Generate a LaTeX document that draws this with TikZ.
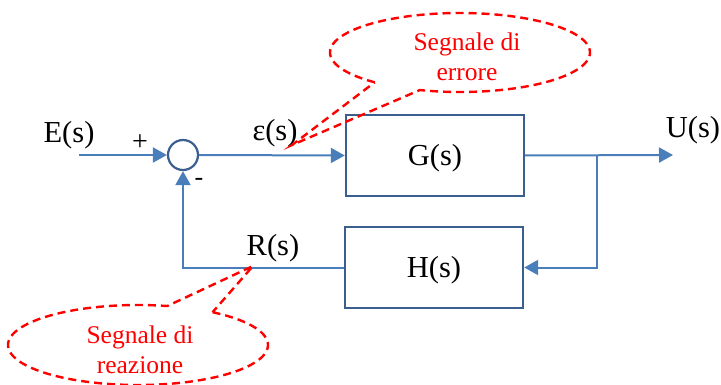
\documentclass[tikz,border=0pt]{standalone}
\usepackage{fontspec}
\setmainfont{Liberation Serif}
\usetikzlibrary{arrows.meta}
\definecolor{sigblue}{HTML}{4A7EBB}
\definecolor{boxblue}{HTML}{3A5F8F}
\definecolor{callred}{HTML}{FF0000}
\begin{document}
\begin{tikzpicture}[x=1pt,y=-1pt,
  sig/.style={draw=sigblue,line width=2pt,-{Triangle[length=14pt,width=15pt]}},
  blockbox/.style={draw=boxblue,line width=2.4pt,minimum width=178pt,minimum height=81pt,inner sep=0pt},
  lbl/.style={font=\fontsize{30.5}{35}\selectfont,inner sep=0pt},
  calltext/.style={font=\fontsize{25.5}{29.5}\selectfont,text=callred,align=center,inner sep=0pt},
  callout/.style={draw=callred,line width=2.4pt,dash pattern=on 8pt off 5pt}]
\useasboundingbox (0,0) rectangle (721,385);
% blocks
\node[blockbox] (G) at (435,155.5) {};
\node[lbl] (Gt) at (435,158) {G(s)};
\node[blockbox] (H) at (434,267.5) {};
\node[lbl] (Ht) at (434,270) {H(s)};
\node[draw=boxblue,line width=2.2pt,circle,minimum size=30pt,inner sep=0pt] (sum) at (183,155) {};
% coordinates
\coordinate (in) at (79,155);
\coordinate (out) at (673,155);
\coordinate (branch) at (597,155);
% connectors
\draw[sig] (in) -- (sum.west);
\draw[sig] (sum.east) -- (G.west);
\draw[sig] (G.east) -- (out);
\draw[sig] (branch) |- (H.east);
\draw[sig] (H.west) -| (sum.south);
% labels
\node[lbl] (E) at (69,135) {E(s)};
\node[lbl] (U) at (693,130) {U(s)};
\node[lbl] (eps) at (275,133) {ε(s)};
\node[lbl] (R) at (273,248) {R(s)};
\node[font=\fontsize{28}{32}\selectfont,inner sep=0pt] (plus) at (140,143) {+};
\node[font=\fontsize{26}{30}\selectfont,inner sep=0pt] (minus) at (199,182) {-};
% callout 1: errore
\coordinate (tip1) at (292,145);
\draw[callout] plot[domain=131:468,samples=120,smooth] ({460+130*cos(\x)},{52.5+39.5*sin(\x)}) -- (tip1) -- cycle;
\node[calltext] (c1) at (467,57) {Segnale di\\errore};
% callout 2: reazione
\coordinate (tip2) at (253,266);
\draw[callout] plot[domain=305:643,samples=120,smooth] ({138+130*cos(\x)},{345+40*sin(\x)}) -- (tip2) -- cycle;
\node[calltext] (c2) at (140,350) {Segnale di\\reazione};
\end{tikzpicture}
\end{document}
